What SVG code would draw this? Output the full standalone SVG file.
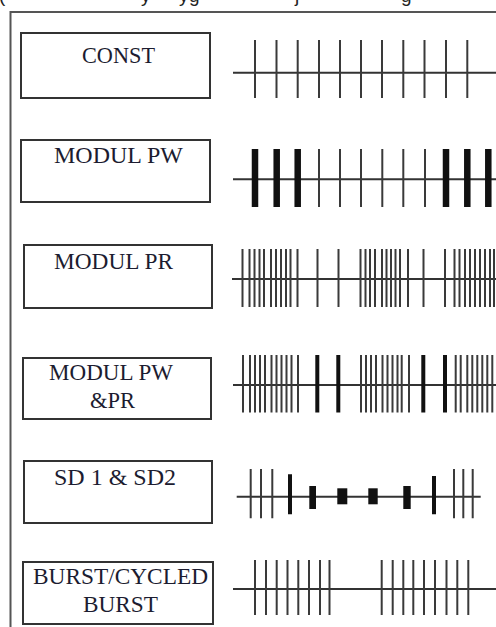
<svg xmlns="http://www.w3.org/2000/svg" width="496" height="627" viewBox="0 0 496 627">
  <style>
    .box { fill: #ffffff; stroke: #333333; stroke-width: 2; }
    .lbl { font-family: "Liberation Serif", "Times New Roman", serif; font-size: 22.5px; fill: #1c1c30; }
    .cap { font-family: "Liberation Sans", Arial, sans-serif; font-size: 19px; fill: #222222; }
    .frame { fill: none; stroke: #555555; stroke-width: 2; }
    .axis { fill: none; stroke: #333333; stroke-width: 2; }
    .tick { fill: none; stroke: #3a3a3a; stroke-width: 2; }
    .tick-b { fill: none; stroke: #111111; stroke-width: 4; }
    .tick-w { fill: none; stroke: #111111; stroke-width: 6.5; }
    .blk { fill: #111111; }
  </style>

  <!-- descenders of the caption line cut off at the top edge -->
  <text class="cap" y="2"><tspan x="-1">(</tspan><tspan x="141">y</tspan><tspan x="179">y</tspan><tspan x="189">g</tspan><tspan x="295">j</tspan><tspan x="401">g</tspan></text>

  <!-- outer frame: top and left edges -->
  <path class="frame" d="M10.5 627 V12 H496"/>

  <!-- stimulation mode labels -->
  <g id="node-const">
    <rect class="box" x="21" y="33" width="189" height="65"/>
    <text class="lbl" x="82" y="63" textLength="73" lengthAdjust="spacingAndGlyphs">CONST</text>
  </g>
  <g id="node-modul-pw">
    <rect class="box" x="21" y="140" width="189" height="62"/>
    <text class="lbl" x="54" y="163" textLength="129" lengthAdjust="spacingAndGlyphs">MODUL PW</text>
  </g>
  <g id="node-modul-pr">
    <rect class="box" x="24" y="245" width="188" height="63"/>
    <text class="lbl" x="54" y="269" textLength="119" lengthAdjust="spacingAndGlyphs">MODUL PR</text>
  </g>
  <g id="node-modul-pw-pr">
    <rect class="box" x="23" y="358" width="188" height="61"/>
    <text class="lbl" x="49" y="380" textLength="124" lengthAdjust="spacingAndGlyphs">MODUL PW</text>
    <text class="lbl" x="90" y="408" textLength="45" lengthAdjust="spacingAndGlyphs">&amp;PR</text>
  </g>
  <g id="node-sd">
    <rect class="box" x="24" y="461" width="188" height="62"/>
    <text class="lbl" x="54" y="485" textLength="122" lengthAdjust="spacingAndGlyphs">SD 1 &amp; SD2</text>
  </g>
  <g id="node-burst">
    <rect class="box" x="23" y="562" width="190" height="62"/>
    <text class="lbl" x="33" y="584" textLength="175" lengthAdjust="spacingAndGlyphs">BURST/CYCLED</text>
    <text class="lbl" x="83" y="612" textLength="75" lengthAdjust="spacingAndGlyphs">BURST</text>
  </g>

  <!-- pulse trains -->
  <g id="waveforms">
    <g id="wave-const">
      <path class="axis" d="M233 72.7 H496"/>
      <path class="tick" d="M255 40V98 M276.5 40V98 M297.7 40V98 M319 40V98 M340 40V98 M361 40V98 M382 40V98 M403.3 40V98 M424.5 40V98 M446 40V98 M467.3 40V98"/>
    </g>
    <g id="wave-modul-pw">
      <path class="axis" d="M233 179.3 H496"/>
      <path class="tick" d="M319 149V207 M340 149V207 M361 149V207 M382.3 149V207 M403.3 149V207 M425 149V207"/>
      <path class="tick-w" d="M255 149V207 M276.7 149V207 M297.7 149V207 M446 149V207 M467.3 149V207 M488.3 149V207"/>
    </g>
    <g id="wave-modul-pr">
      <path class="axis" d="M232 279 H496"/>
      <path class="tick" d="M242.5 249V307 M249.5 249V307 M254.5 249V307 M259.5 249V307 M264 249V307 M271 249V307 M276 249V307 M281 249V307 M286 249V307 M290.5 249V307 M297.5 249V307
        M317.5 249V307 M338.5 249V307
        M360.5 249V307 M365.5 249V307 M370 249V307 M375 249V307 M382 249V307 M386.5 249V307 M391 249V307 M395.5 249V307 M400 249V307 M408 249V307
        M423.5 249V307 M445 249V307
        M454.5 249V307 M459.5 249V307 M465 249V307 M470 249V307 M475 249V307 M480 249V307 M485 249V307 M490 249V307 M494 249V307"/>
    </g>
    <g id="wave-modul-pw-pr">
      <path class="axis" d="M233 385 H496"/>
      <path class="tick" d="M243 355V412.5 M250 355V412.5 M255 355V412.5 M260 355V412.5 M265 355V412.5 M271.5 355V412.5 M276.5 355V412.5 M281.5 355V412.5 M286.5 355V412.5 M291.5 355V412.5 M298 355V412.5
        M361 355V412.5 M366 355V412.5 M371 355V412.5 M376 355V412.5 M382.5 355V412.5 M387.5 355V412.5 M392.5 355V412.5 M397.5 355V412.5 M401.7 355V412.5 M409 355V412.5
        M455.7 355V412.5 M460.7 355V412.5 M467.3 355V412.5 M472.3 355V412.5 M477.3 355V412.5 M482.3 355V412.5 M487.3 355V412.5 M492.3 355V412.5"/>
      <path class="tick-b" d="M317.3 355V412.5 M338.3 355V412.5 M423.3 355V412.5 M445 355V412.5"/>
    </g>
    <g id="wave-sd">
      <path class="axis" d="M236.7 496.7 H480.7"/>
      <path class="tick" d="M250.7 469V518.3 M261 469V518.3 M272.3 469V518.3 M454 469V518.3 M463.3 469V518.3 M472.7 469V518.3"/>
      <path class="tick-b" d="M290 474.3V514.3 M434 476V514.3"/>
      <rect class="blk" x="309.3" y="486" width="6.7" height="23"/>
      <rect class="blk" x="337.3" y="488.3" width="10" height="16"/>
      <rect class="blk" x="368.3" y="488.3" width="9.4" height="16"/>
      <rect class="blk" x="403.3" y="486" width="7.4" height="23"/>
    </g>
    <g id="wave-burst">
      <path class="axis" d="M233 589 H496"/>
      <path class="tick" d="M255 560V615 M266 560V615 M276.7 560V615 M287.5 560V615 M298.3 560V615 M309 560V615 M320 560V615 M329.5 560V615
        M381.7 560V615 M392.7 560V615 M403.3 560V615 M413.3 560V615 M424 560V615 M435 560V615 M446.5 560V615 M457.3 560V615 M468.3 560V615"/>
    </g>
  </g>
</svg>
